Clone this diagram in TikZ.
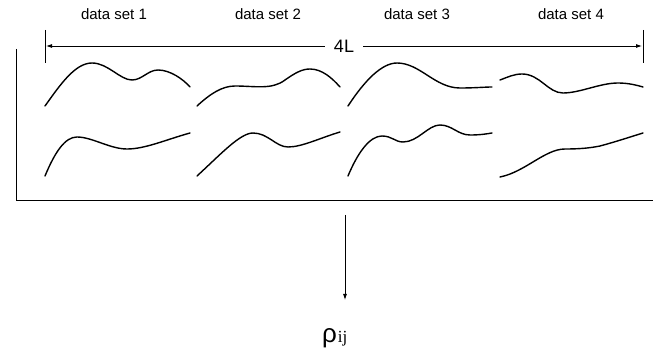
\documentclass[tikz,border=0pt]{standalone}
\usepackage{fontspec}
\setmainfont{Liberation Sans}
\newfontfamily\serifrm{Liberation Serif}
\usetikzlibrary{arrows.meta}
\begin{document}
\begin{tikzpicture}[x=1pt,y=-1pt,
  lbl/.style={font=\fontsize{15}{17}\selectfont, inner sep=0pt, anchor=base},
  curve/.style={line width=1.4pt, line join=round, line cap=round},
  frame/.style={line width=0.9pt},
  thin/.style={line width=0.8pt},
  tip/.style={-{Latex[length=6pt,width=4pt]}}]
\useasboundingbox (0,0) rectangle (670,358);
% labels
\node[lbl] (d1) at (114,20) {data set 1};
\node[lbl] (d2) at (268,20) {data set 2};
\node[lbl] (d3) at (417,20) {data set 3};
\node[lbl] (d4) at (571,20) {data set 4};
% frame
\coordinate (ft) at (16,49);
\coordinate (fc) at (16,200);
\coordinate (fr) at (653,200);
\draw[frame] (ft) -- (fc) -- (fr);
% ticks and 4L arrow
\coordinate (tlt) at (45,30);
\coordinate (tlb) at (45,63);
\coordinate (trt) at (643,30);
\coordinate (trb) at (643,63);
\draw[thin] (tlt) -- (tlb);
\draw[thin] (trt) -- (trb);
\coordinate (al) at (46,46);
\coordinate (ar) at (642,46);
\node[font=\fontsize{18}{20}\selectfont, inner sep=0pt, minimum width=38pt, anchor=base] (L) at (344,52.5) {4L};
\draw[thin,tip] (L.west |- al) -- (al);
\draw[thin,tip] (L.east |- ar) -- (ar);
% curves
\draw[curve] (45,106) .. controls (60,85) and (75,63) .. (92,63)
  .. controls (108,63) and (120,80) .. (132,80)
  .. controls (142,80) and (148,70) .. (158,70)
  .. controls (170,70) and (183,79) .. (190,87);
\draw[curve] (45,176) .. controls (55,152) and (65,137) .. (77,137)
  .. controls (92,137) and (110,149) .. (127,149)
  .. controls (145,149) and (165,140) .. (190,133);
\draw[curve] (197,106) .. controls (210,94) and (222,86) .. (235,86)
  .. controls (255,86) and (272,90) .. (285,80)
  .. controls (295,73) and (302,69) .. (310,69)
  .. controls (322,69) and (332,78) .. (340,87);
\draw[curve] (197,176) .. controls (220,155) and (240,133) .. (253,133)
  .. controls (268,133) and (276,147) .. (288,147)
  .. controls (302,147) and (320,138) .. (340,132);
\draw[curve] (348,106) .. controls (365,80) and (382,63) .. (397,63)
  .. controls (420,63) and (435,88) .. (460,88)
  .. controls (475,88) and (485,87) .. (492,87);
\draw[curve] (348,176) .. controls (358,152) and (370,136) .. (382,136)
  .. controls (392,136) and (395,142) .. (403,142)
  .. controls (418,142) and (428,125) .. (440,125)
  .. controls (452,125) and (458,135) .. (470,135)
  .. controls (480,135) and (486,134) .. (492,133);
\draw[curve] (500,80) .. controls (508,77) and (514,74) .. (522,74)
  .. controls (540,74) and (548,93) .. (563,93)
  .. controls (580,93) and (600,83) .. (618,83)
  .. controls (628,83) and (636,85) .. (643,87);
\draw[curve] (500,177) .. controls (525,172) and (545,149) .. (565,149)
  .. controls (580,149) and (590,148) .. (600,146)
  .. controls (615,142) and (630,137) .. (643,133);
% down arrow
\node[inner sep=0pt, anchor=base west] (rho) at (322,342) {\fontsize{26}{28}\selectfont ρ\kern1pt\serifrm\fontsize{17}{19}\selectfont ij};
\coordinate (dt) at (345,215);
\coordinate (db) at (345,300);
\draw[thin,tip] (dt) -- (db);
\end{tikzpicture}
\end{document}
